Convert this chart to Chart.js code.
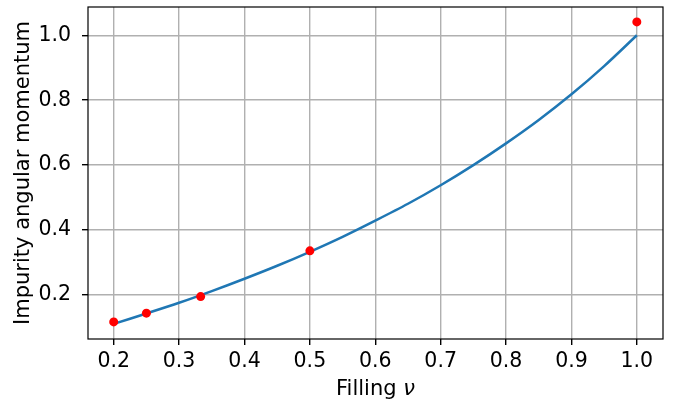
<!DOCTYPE html>
<html>
<head>
<meta charset="utf-8">
<script src="https://cdn.jsdelivr.net/npm/chart.js@4.4.1/dist/chart.umd.min.js"></script>
<style>
  html, body { margin: 0; padding: 0; background: #fff; }
  #wrap { width: 679px; height: 407px; }
</style>
</head>
<body>
<div id="wrap"><canvas id="grafico" width="679" height="407"></canvas></div>
<script>
// curve
const curvaX = [0.2, 0.25, 0.3, 0.35, 0.4, 0.45, 0.5, 0.55, 0.6, 0.65, 0.7, 0.75, 0.8, 0.85, 0.9, 0.95, 1.0];
const curvaY = [0.111, 0.143, 0.176, 0.212, 0.250, 0.290, 0.333, 0.379, 0.429, 0.481, 0.538, 0.600, 0.667, 0.739, 0.818, 0.905, 1.0];

// red markers
const puntosX = [0.2, 0.25, 0.333, 0.5, 1.0];
const puntosY = [0.117, 0.144, 0.195, 0.336, 1.041];

const ticksX = [0.2, 0.3, 0.4, 0.5, 0.6, 0.7, 0.8, 0.9, 1.0];
const ticksY = [0.2, 0.4, 0.6, 0.8, 1.0];

const tituloX = "Filling ";
const tituloXsimbolo = "ν";
const tituloY = "Impurity angular momentum";

const fuente = "'DejaVu Sans', sans-serif";

// frame around the plot plus axis titles (x title has an italic nu)
const marco = {
    id: "marco",
    afterDraw(chart) {
        const { ctx, chartArea: a } = chart;
        ctx.save();
        ctx.strokeStyle = "#000";
        ctx.lineWidth = 1.2;
        ctx.strokeRect(a.left, a.top, a.right - a.left, a.bottom - a.top);

        ctx.fillStyle = "#000";
        ctx.textBaseline = "middle";
        ctx.font = "21px " + fuente;
        const w1 = ctx.measureText(tituloX).width;
        ctx.font = "italic 21px " + fuente;
        const w2 = ctx.measureText(tituloXsimbolo).width;
        const cx = (a.left + a.right) / 2;
        let x0 = cx - (w1 + w2) / 2;
        ctx.textAlign = "left";
        ctx.font = "21px " + fuente;
        ctx.fillText(tituloX, x0, 390);
        ctx.font = "italic 21px " + fuente;
        ctx.fillText(tituloXsimbolo, x0 + w1, 390);

        ctx.translate(24, (a.top + a.bottom) / 2);
        ctx.rotate(-Math.PI / 2);
        ctx.textAlign = "center";
        ctx.font = "21px " + fuente;
        ctx.fillText(tituloY, 0, 0);
        ctx.restore();
    }
};

new Chart(document.getElementById("grafico"), {
    type: "scatter",
    data: {
        datasets: [
            {
                label: "curva",
                data: curvaX.map((x, i) => ({ x: x, y: curvaY[i] })),
                showLine: true,
                borderColor: "#1f77b4",
                borderWidth: 2.5,
                pointRadius: 0,
                tension: 0.3,
                order: 2
            },
            {
                label: "puntos",
                data: puntosX.map((x, i) => ({ x: x, y: puntosY[i] })),
                backgroundColor: "#ff0000",
                borderColor: "#ff0000",
                pointRadius: 4.5,
                borderWidth: 0,
                order: 1
            }
        ]
    },
    options: {
        responsive: false,
        animation: false,
        layout: { padding: { left: 0, right: 16, top: 7, bottom: 0 } },
        plugins: { legend: { display: false }, tooltip: { enabled: false } },
        scales: {
            x: {
                type: "linear",
                min: 0.1607,
                max: 1.04,
                afterBuildTicks: s => { s.ticks = ticksX.map(v => ({ value: v })); },
                afterFit: s => { s.height = 68; s.paddingLeft = 0; s.paddingRight = 0; },
                border: { display: false },
                grid: { color: "#b0b0b0", lineWidth: 1.4, tickColor: "#000", tickLength: 6 },
                ticks: {
                    color: "#000",
                    padding: 4,
                    maxRotation: 0,
                    font: { family: fuente, size: 20.5 },
                    callback: v => v.toFixed(1)
                }
            },
            y: {
                type: "linear",
                min: 0.0644,
                max: 1.087,
                afterBuildTicks: s => { s.ticks = ticksY.map(v => ({ value: v })); },
                afterFit: s => { s.width = 88; s.paddingTop = 0; s.paddingBottom = 0; },
                border: { display: false },
                grid: { color: "#b0b0b0", lineWidth: 1.4, tickColor: "#000", tickLength: 6 },
                ticks: {
                    color: "#000",
                    padding: 11,
                    font: { family: fuente, size: 20.5 },
                    callback: v => v.toFixed(1)
                }
            }
        }
    },
    plugins: [marco]
});
</script>
</body>
</html>
